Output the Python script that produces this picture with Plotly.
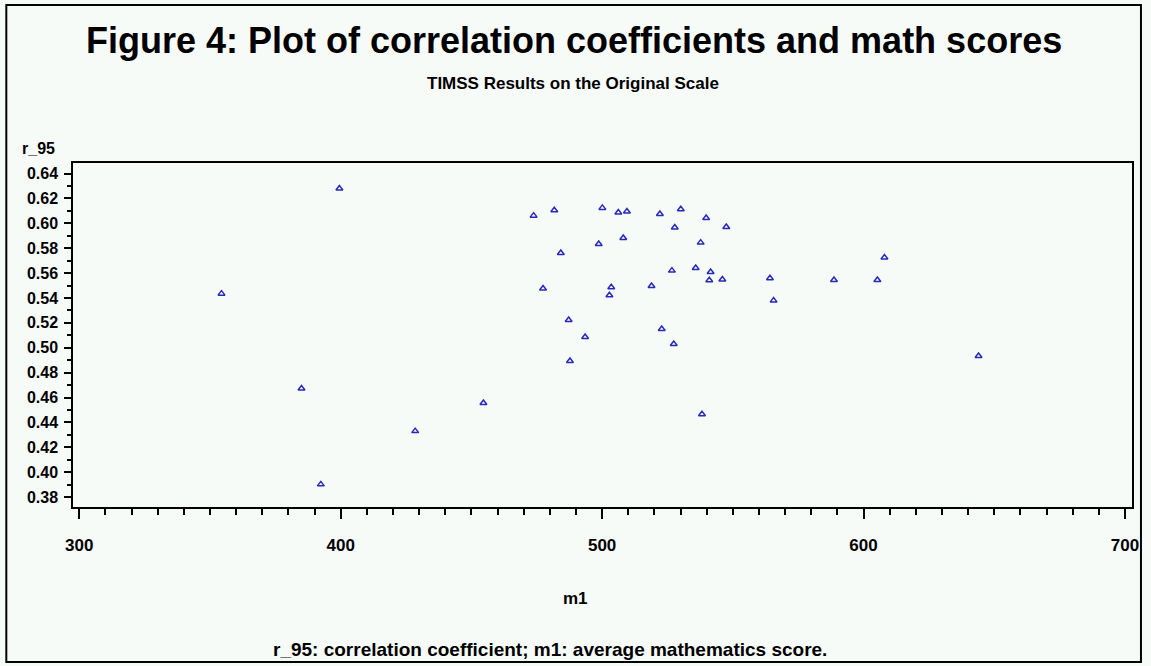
import plotly.graph_objects as go

# average mathematics score (m1)
m1 = [354.4, 385.0, 392.4, 399.5, 428.5, 454.6, 473.8, 481.7, 484.2, 477.4,
      487.2, 493.5, 487.7, 500.1, 498.7, 506.2, 509.5, 508.1, 503.5, 502.8,
      522.1, 530.1, 539.8, 547.5, 527.8, 537.7, 526.7, 535.8, 541.5, 541.0,
      546.0, 518.9, 522.8, 527.4, 538.2, 564.2, 565.6, 588.7, 605.3, 608.0,
      644.0]
# correlation coefficient (r_95)
r_95 = [0.5435, 0.4672, 0.3902, 0.6280, 0.4330, 0.4556, 0.6062, 0.6105, 0.5762, 0.5476,
        0.5223, 0.5087, 0.4894, 0.6124, 0.5834, 0.6087, 0.6095, 0.5882, 0.5486, 0.5422,
        0.6075, 0.6113, 0.6043, 0.5971, 0.5966, 0.5845, 0.5620, 0.5641, 0.5609, 0.5542,
        0.5548, 0.5497, 0.5151, 0.5030, 0.4465, 0.5558, 0.5379, 0.5545, 0.5545, 0.5725,
        0.4934]

x_ticks = [300, 400, 500, 600, 700]
y_ticks = [0.38, 0.40, 0.42, 0.44, 0.46, 0.48, 0.50, 0.52, 0.54, 0.56, 0.58, 0.60, 0.62, 0.64]
y_ticktext = [f"{v:.2f}" for v in y_ticks]

title = "Figure 4: Plot of correlation coefficients and math scores"
subtitle = "TIMSS Results on the Original Scale"
footnote = "r_95: correlation coefficient; m1: average mathematics score."

FONT = "Liberation Sans, Arial, Helvetica, sans-serif"
BG = "#F7FBF7"

fig = go.Figure()
fig.add_trace(go.Scatter(
    x=m1, y=r_95, mode="markers",
    marker=dict(symbol="triangle-up-open", size=6, color="#2A2AB8",
                line=dict(width=1.5, color="#2A2AB8")),
    showlegend=False, hoverinfo="x+y"))

W, H = 1151, 666
L, R, T, B = 73, 14, 163, 159
pw, ph = W - L - R, H - T - B

def px(xp):
    return (xp - L) / pw

def py(yp):
    return (H - B - yp) / ph

fig.update_layout(
    width=W, height=H, autosize=False,
    margin=dict(l=L, r=R, t=T, b=B),
    paper_bgcolor=BG, plot_bgcolor=BG,
    font=dict(family=FONT, color="black"),
    xaxis=dict(range=[297.6, 702.7], tickvals=x_ticks, ticks="outside", ticklen=10,
               tickwidth=1.5, tickcolor="black",
               minor=dict(dtick=10, tick0=300, ticks="outside", ticklen=6, tickwidth=1.5,
                          tickcolor="black", showgrid=False),
               showgrid=False, zeroline=False, showline=True, linecolor="black",
               linewidth=1.5, mirror=True, ticklabelstandoff=12,
               tickfont=dict(size=17, family=FONT, weight="bold")),
    yaxis=dict(range=[0.372, 0.6485], tickvals=y_ticks, ticktext=y_ticktext,
               ticks="outside", ticklen=7, tickwidth=1.5, tickcolor="black",
               minor=dict(dtick=0.01, tick0=0.38, ticks="outside", ticklen=4, tickwidth=1.5,
                          tickcolor="black", showgrid=False),
               showgrid=False, zeroline=False, showline=True, linecolor="black",
               linewidth=1.5, mirror=True, ticklabelstandoff=3,
               tickfont=dict(size=16, family=FONT, weight="bold")),
)

annotations = [
    dict(text=title, x=px(576), y=py(40), font=dict(size=36, family=FONT, weight="bold")),
    dict(text=subtitle, x=px(575.5), y=py(83), font=dict(size=17, family=FONT, weight="bold")),
    dict(text="r_95", x=px(38), y=py(149), font=dict(size=16, family=FONT, weight="bold")),
    dict(text="m1", x=px(578), y=py(598), font=dict(size=17, family=FONT, weight="bold")),
    dict(text=footnote, x=px(552), y=py(649), font=dict(size=19, family=FONT, weight="bold")),
]
for a in annotations:
    fig.add_annotation(xref="paper", yref="paper", showarrow=False,
                       xanchor="center", yanchor="middle", **a)

# outer frame around the whole graphic
fig.add_shape(type="rect", xref="paper", yref="paper",
              x0=px(6), x1=px(1146), y0=py(662), y1=py(5),
              line=dict(color="black", width=2), fillcolor="rgba(0,0,0,0)", layer="above")

fig.write_html("out.html", config={"displayModeBar": False},
               post_script="document.body.style.margin='0';document.body.style.background='%s';" % BG)
